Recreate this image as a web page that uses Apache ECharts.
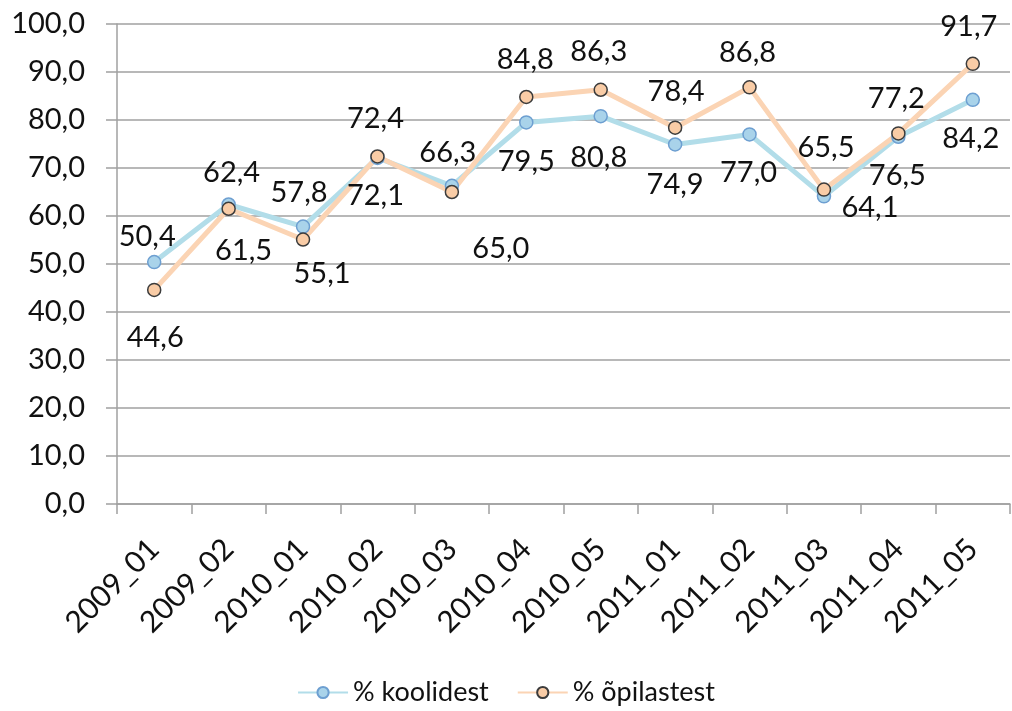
<!DOCTYPE html>
<html>
<head>
<meta charset="utf-8">
<script src="https://cdn.jsdelivr.net/npm/echarts@6/dist/echarts.min.js"></script>
<style>
    html, body { margin: 0; padding: 0; background: #fff; }
    #chart { width: 1012px; height: 711px; }
</style>
</head>
<body>
<div id="chart"></div>
<script>
// data
var categories = ['2009_01', '2009_02', '2010_01', '2010_02', '2010_03', '2010_04',
                  '2010_05', '2011_01', '2011_02', '2011_03', '2011_04', '2011_05'];
var koolidest = [50.4, 62.4, 57.8, 72.1, 66.3, 79.5, 80.8, 74.9, 77.0, 64.1, 76.5, 84.2];
var opilastest = [44.6, 61.5, 55.1, 72.4, 65.0, 84.8, 86.3, 78.4, 86.8, 65.5, 77.2, 91.7];

// where each value label sits relative to its point (px)
var koolidestLabelOffset = [[-7, -25], [3, -32], [-4, -34], [-2, 38], [-4, -33], [0, 39],
                            [-2, 41], [0, 40], [-1, 38], [46, 11], [-1, 39], [-2, 39]];
var opilastestLabelOffset = [[1, 48], [15, 42], [19, 34], [-2, -38], [49, 57], [-1, -37],
                             [-2, -38], [1, -36], [-2, -35], [2, -42], [-2, -35], [-4, -37]];

var fmt = function (v) { return Number(v).toFixed(1).replace('.', ','); };
var FONT = 'Lato';

function withLabels(values, offsets) {
    return values.map(function (v, i) {
        return { value: v, label: { offset: offsets[i] } };
    });
}

var chart = echarts.init(document.getElementById('chart'));
chart.setOption({
    animation: false,
    grid: { left: 117, right: 2, top: 24, bottom: 207 },
    legend: {
        data: ['% koolidest', '% õpilastest'],
        bottom: 0,
        left: 'center',
        itemWidth: 50,
        itemHeight: 14,
        itemGap: 28,
        textStyle: { fontFamily: FONT, fontSize: 27, color: '#111' }
    },
    xAxis: {
        type: 'category',
        data: categories,
        boundaryGap: true,
        axisLine: { lineStyle: { color: '#a0a0a0', width: 1.5 } },
        axisTick: { show: true, length: 10, lineStyle: { color: '#a0a0a0', width: 1.5 } },
        axisLabel: {
            rotate: 45,
            interval: 0,
            margin: 40,
            fontFamily: FONT,
            fontSize: 30,
            color: '#111'
        }
    },
    yAxis: {
        type: 'value',
        min: 0,
        max: 100,
        interval: 10,
        axisLine: { show: true, lineStyle: { color: '#a0a0a0', width: 1.5 } },
        axisTick: { show: true, length: 11, lineStyle: { color: '#a0a0a0', width: 1.5 } },
        splitLine: { lineStyle: { color: '#a0a0a0', width: 1.5 } },
        axisLabel: {
            margin: 32,
            fontFamily: FONT,
            fontSize: 29,
            color: '#111',
            formatter: fmt
        }
    },
    series: [
        {
            name: '% koolidest',
            type: 'line',
            data: withLabels(koolidest, koolidestLabelOffset),
            symbol: 'circle',
            symbolSize: 13,
            lineStyle: { color: '#b2dde9', width: 5 },
            itemStyle: { color: '#a9d3ea', borderColor: '#6d9fd1', borderWidth: 1.5 },
            label: {
                show: true,
                position: 'inside',
                fontFamily: FONT,
                fontSize: 29,
                color: '#111',
                formatter: function (p) { return fmt(p.value); }
            },
            emphasis: { disabled: true }
        },
        {
            name: '% õpilastest',
            type: 'line',
            data: withLabels(opilastest, opilastestLabelOffset),
            symbol: 'circle',
            symbolSize: 13,
            lineStyle: { color: '#fbd4b4', width: 5 },
            itemStyle: { color: '#f9cca6', borderColor: '#3c3c3c', borderWidth: 1.5 },
            label: {
                show: true,
                position: 'inside',
                fontFamily: FONT,
                fontSize: 29,
                color: '#111',
                formatter: function (p) { return fmt(p.value); }
            },
            emphasis: { disabled: true }
        }
    ]
});
</script>
</body>
</html>
